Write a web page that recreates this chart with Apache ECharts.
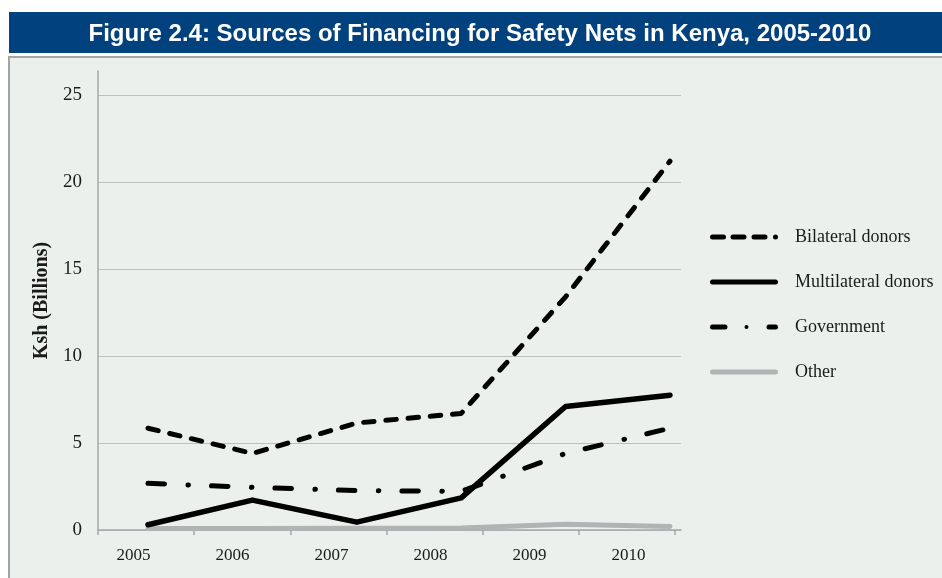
<!DOCTYPE html>
<html>
<head>
<meta charset="utf-8">
<script src="https://cdn.jsdelivr.net/npm/echarts@6/dist/echarts.min.js"></script>
<style>
  html, body { margin: 0; padding: 0; background: #ffffff; }
  #chart { width: 942px; height: 578px; }
</style>
</head>
<body>
<div id="chart"></div>
<script>
// Sources of financing for safety nets in Kenya (Ksh billions)
const years = ['2005', '2006', '2007', '2008', '2009', '2010'];
const bilateral = [5.85, 4.4, 6.15, 6.7, 13.4, 21.2];
const multilateral = [0.3, 1.72, 0.45, 1.85, 7.1, 7.75];
const government = [2.68, 2.45, 2.26, 2.22, 4.4, 5.85];
const other = [0.08, 0.08, 0.1, 0.12, 0.33, 0.2];
const yTicks = { min: 0, max: 25, step: 5 };

const serif = 'Liberation Serif';
const axisGray = '#a6a8aa';
const gridGray = '#bcbfc0';

// Legend swatches: rounded strokes on a 68 x 5 strip, padded to 80 wide
// so the label sits a little further from the stroke.
function seg(x0, x1) {
  const r = 2.5;
  return 'M' + (x0 + r) + ' 0H' + (x1 - r) + 'A' + r + ' ' + r + ' 0 0 1 ' + (x1 - r) + ' 5' +
         'H' + (x0 + r) + 'A' + r + ' ' + r + ' 0 0 1 ' + (x0 + r) + ' 0Z';
}
function dot(cx, r) {
  return 'M' + (cx - r) + ' 2.5A' + r + ' ' + r + ' 0 1 1 ' + (cx + r) + ' 2.5' +
         'A' + r + ' ' + r + ' 0 1 1 ' + (cx - r) + ' 2.5Z';
}
const pad = 'M80 2.5L80 2.5Z';
const iconDashed = 'path://' + seg(0, 16) + seg(20.5, 36.5) + seg(41.5, 57.5) + seg(63, 68) + pad;
const iconSolid = 'path://' + seg(0, 68) + pad;
const iconDashDot = 'path://' + seg(0, 17.5) + dot(36.5, 2) + seg(56.5, 68) + pad;

const chart = echarts.init(document.getElementById('chart'), null, { renderer: 'canvas' });

const plain = {
  axisLine: { show: false }, axisTick: { show: false },
  axisLabel: { show: false }, splitLine: { show: false }
};

chart.setOption({
  backgroundColor: '#ffffff',
  animation: false,
  graphic: [
    { type: 'rect', z: -20, silent: true,
      shape: { x: 9, y: 12, width: 940, height: 41 },
      style: { fill: '#01427e' } },
    { type: 'rect', z: -20, silent: true,
      shape: { x: 9, y: 57, width: 940, height: 530 },
      style: { fill: '#ebf0ec', stroke: '#a4a6a6', lineWidth: 2 } },
    { type: 'text', z: 10, silent: true,
      x: 480, y: 34,
      style: {
        text: 'Figure 2.4: Sources of Financing for Safety Nets in Kenya, 2005-2010',
        fill: '#ffffff', font: 'bold 24px "Liberation Sans", Arial, sans-serif',
        align: 'center', verticalAlign: 'middle'
      } }
  ],
  grid: [
    { left: 98, top: 95, width: 583, height: 435 },   // value frame + split lines
    { left: 98, top: 71, width: 577, height: 459 },   // tall y line + x ticks
    { left: 133.5, top: 95, width: 495, height: 435 }, // year labels
    { left: 148, top: 95, width: 522, height: 435 }    // plotted series
  ],
  xAxis: [
    { gridIndex: 0, type: 'category', data: years, boundaryGap: true,
      axisLine: { show: true, lineStyle: { color: axisGray, width: 1.5 } },
      axisTick: { show: false }, axisLabel: { show: false }, splitLine: { show: false } },
    { gridIndex: 1, type: 'category', data: years, boundaryGap: true,
      axisLine: { show: false },
      axisTick: { show: true, length: 5, lineStyle: { color: axisGray, width: 1.5 } },
      axisLabel: { show: false }, splitLine: { show: false } },
    { gridIndex: 2, type: 'category', data: years, boundaryGap: false,
      axisLine: { show: false }, axisTick: { show: false }, splitLine: { show: false },
      axisLabel: { show: true, margin: 17, color: '#1a1a1a',
        fontFamily: serif, fontSize: 17 } },
    Object.assign({ gridIndex: 3, type: 'category', data: years, boundaryGap: false }, plain)
  ],
  yAxis: [
    { gridIndex: 0, type: 'value', min: yTicks.min, max: yTicks.max, interval: yTicks.step,
      axisLine: { show: false }, axisTick: { show: false },
      splitLine: { show: true, lineStyle: { color: gridGray, width: 1.2 } },
      axisLabel: { show: true, margin: 16, color: '#1a1a1a',
        fontFamily: serif, fontSize: 19 } },
    { gridIndex: 1, type: 'value', min: 0, max: 1,
      name: 'Ksh (Billions)', nameLocation: 'middle', nameRotate: 90, nameGap: 46,
      nameTextStyle: { fontFamily: serif, fontSize: 20, fontWeight: 'bold', color: '#1a1a1a' },
      axisLine: { show: true, lineStyle: { color: axisGray, width: 1.5 } },
      axisTick: { show: false }, axisLabel: { show: false }, splitLine: { show: false } },
    Object.assign({ gridIndex: 2, type: 'value', min: 0, max: 1 }, plain),
    Object.assign({ gridIndex: 3, type: 'value', min: yTicks.min, max: yTicks.max }, plain)
  ],
  legend: {
    orient: 'vertical',
    left: 705, top: 223,
    itemWidth: 80, itemHeight: 5, itemGap: 27,
    selectedMode: false,
    textStyle: { fontFamily: serif, fontSize: 18, color: '#1a1a1a' },
    data: [
      { name: 'Bilateral donors', icon: iconDashed },
      { name: 'Multilateral donors', icon: iconSolid },
      { name: 'Government', icon: iconDashDot },
      { name: 'Other', icon: iconSolid }
    ]
  },
  series: [
    { name: 'Other', type: 'line', xAxisIndex: 3, yAxisIndex: 3, data: other,
      symbol: 'none', z: 3, color: '#b1b3b5',
      lineStyle: { width: 5, color: '#b1b3b5', cap: 'round', join: 'round' } },
    { name: 'Government', type: 'line', xAxisIndex: 3, yAxisIndex: 3, data: government,
      symbol: 'none', z: 4, color: '#000000',
      lineStyle: { width: 5, color: '#000000', type: [16.5, 23.5, 0.5, 23],
        cap: 'round', join: 'round' } },
    { name: 'Multilateral donors', type: 'line', xAxisIndex: 3, yAxisIndex: 3, data: multilateral,
      symbol: 'none', z: 5, color: '#000000',
      lineStyle: { width: 5.5, color: '#000000', cap: 'round', join: 'round' } },
    { name: 'Bilateral donors', type: 'line', xAxisIndex: 3, yAxisIndex: 3, data: bilateral,
      symbol: 'none', z: 6, color: '#000000',
      lineStyle: { width: 5, color: '#000000', type: [10.5, 11.8], cap: 'round', join: 'round' } }
  ]
});
</script>
</body>
</html>
